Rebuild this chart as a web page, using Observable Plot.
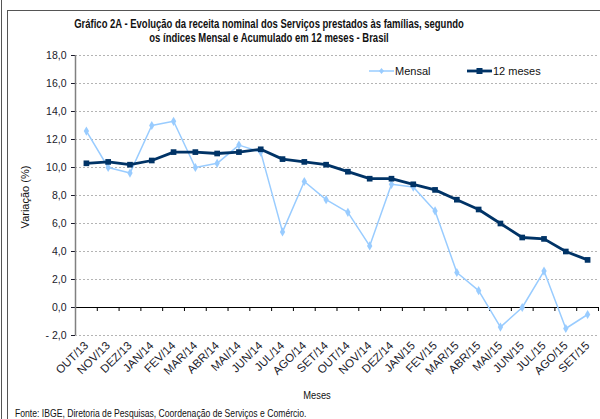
<!DOCTYPE html>
<html>
<head>
<meta charset="utf-8">
<script src="https://cdn.jsdelivr.net/npm/d3@7"></script>
<script src="https://cdn.jsdelivr.net/npm/@observablehq/plot@0.6"></script>
<style>
  html, body { margin: 0; padding: 0; background: #fff; }
  #wrap { position: relative; width: 600px; height: 419px; overflow: hidden; font-family: "Liberation Sans", Arial, sans-serif; color: #111; }
  #wrap svg.plot { position: absolute; left: 0; top: 0; }
  .abs { position: absolute; white-space: nowrap; }
  #outerline { position: absolute; left: 1px; top: 0; width: 1px; height: 419px; background: #555; }
  #frame { position: absolute; left: 7px; top: 10px; width: 600px; height: 420px; border-left: 1px solid #555; border-top: 1px solid #555; }
  #title { left: 0; width: 538px; top: 18px; text-align: center; font-weight: bold; font-size: 12px; line-height: 13.5px; color: #111; transform: scaleX(0.79); transform-origin: 269px 0; }
  .leg { font-size: 11px; display: flex; align-items: center; }
  #ylab { left: 25px; top: 197px; transform: translate(-50%, -50%) rotate(-90deg); font-size: 11px; }
  #xlab { left: 317px; top: 395px; transform: translate(-50%, -50%) scaleX(0.85); font-size: 11px; }
  #fonte { left: 15px; top: 407px; font-size: 10.5px; transform: scaleX(0.82); transform-origin: 0 0; }
</style>
</head>
<body>
<div id="wrap">
  <div id="outerline"></div>
  <div id="frame"></div>
</div>
<script>
const categorias = ["OUT/13","NOV/13","DEZ/13","JAN/14","FEV/14","MAR/14","ABR/14","MAI/14","JUN/14","JUL/14","AGO/14","SET/14","OUT/14","NOV/14","DEZ/14","JAN/15","FEV/15","MAR/15","ABR/15","MAI/15","JUN/15","JUL/15","AGO/15","SET/15"];
const mensal = [12.6,10.0,9.6,13.0,13.3,10.0,10.3,11.6,11.1,5.4,9.0,7.7,6.8,4.4,8.8,8.6,6.9,2.5,1.2,-1.4,0.0,2.6,-1.5,-0.5];
const acumulado12 = [10.3,10.4,10.2,10.5,11.1,11.1,11.0,11.1,11.3,10.6,10.4,10.2,9.7,9.2,9.2,8.8,8.4,7.7,7.0,6.0,5.0,4.9,4.0,3.4];
const yTicks = [-2,0,2,4,6,8,10,12,14,16,18];
const seriesNames = ["Mensal","12 meses"];
const colors = ["#99CCFF","#003366"];

const W = 600, H = 419, mL = 75, mR = 2, mT = 55, mB = 84;
const step = (W - mL - mR) / categorias.length;
const fmt = d => (d < 0 ? "- " : "") + Math.abs(d).toFixed(1).replace(".", ",");

const chart = Plot.plot({
  width: W, height: H,
  marginLeft: mL, marginRight: mR, marginTop: mT, marginBottom: mB,
  style: { fontFamily: "'Liberation Sans', Arial, sans-serif", fontSize: "10.5px", color: "#1a1a2a", background: "transparent", overflow: "visible" },
  x: { type: "point", domain: categorias, padding: 0.5, round: false, label: null, tickSize: 0, tickRotate: -45, tickPadding: 8 },
  y: { domain: [-2, 18], ticks: yTicks, tickFormat: fmt, tickSize: 4, tickPadding: 5, label: null },
  marks: [
    Plot.ruleY(yTicks.filter(d => d !== 0), { stroke: "#b4b4b4", strokeDasharray: "2,2" }),
    Plot.ruleY([0], { stroke: "#000", strokeWidth: 1 }),
    Plot.ruleX([categorias[0]], { y1: -2, y2: 18, dx: -step / 2, stroke: "#808080", strokeWidth: 1.5 }),
    Plot.ruleX(categorias, { x: d => d, y1: 0, y2: 0, dx: step / 2, insetBottom: -4, stroke: "#000" }),
    Plot.line(categorias, { x: categorias, y: mensal, stroke: colors[0], strokeWidth: 1.5 }),
    Plot.dot(categorias, { x: categorias, y: mensal, symbol: "diamond", r: 2.8, fill: colors[0], stroke: "none" }),
    Plot.line(categorias, { x: categorias, y: acumulado12, stroke: colors[1], strokeWidth: 2.8 }),
    Plot.dot(categorias, { x: categorias, y: acumulado12, symbol: "square", r: 3.2, fill: colors[1], stroke: "none" })
  ]
});
chart.classList.add("plot");
chart.querySelectorAll("g[aria-label='x-axis tick label'] text, g[aria-label='x-axis'] text").forEach(t => t.setAttribute("font-size", "11.5"));
const wrap = document.getElementById("wrap");
wrap.appendChild(chart);

function addDiv(id, cls, html) {
  const d = document.createElement("div");
  if (id) d.id = id;
  d.className = cls;
  d.innerHTML = html;
  wrap.appendChild(d);
  return d;
}
addDiv("title", "abs", "Gráfico 2A - Evolução da receita nominal dos Serviços prestados às famílias, segundo<br>os índices Mensal e Acumulado em 12 meses - Brasil");
addDiv("ylab", "abs", "Variação (%)");
addDiv("xlab", "abs", "Meses");
addDiv("fonte", "abs", "Fonte: IBGE, Diretoria de Pesquisas, Coordenação de Serviços e Comércio.");

// legend
const legPos = [369, 467];
seriesNames.forEach((name, i) => {
  const d = addDiv(null, "abs leg", "");
  d.style.left = legPos[i] + "px";
  d.style.top = "64px";
  const sw = i === 0 ? 1.5 : 2.8;
  const mark = i === 0
    ? `<path d="M12.5,4 L15,7 L12.5,10 L10,7 Z" fill="${colors[i]}"/>`
    : `<rect x="9.5" y="4" width="6" height="6" fill="${colors[i]}"/>`;
  d.innerHTML = `<svg width="25" height="14" style="display:block"><line x1="0" x2="25" y1="7" y2="7" stroke="${colors[i]}" stroke-width="${sw}"/>${mark}</svg><span style="margin-left:1px">${name}</span>`;
});
</script>
</body>
</html>
